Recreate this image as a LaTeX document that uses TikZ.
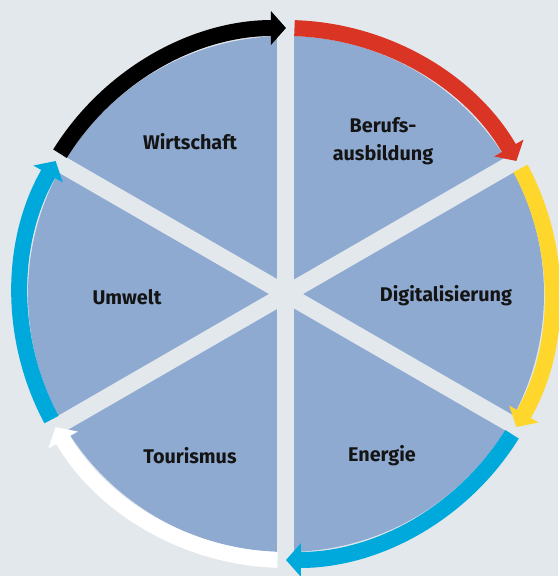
\documentclass[tikz,border=0pt]{standalone}
\usepackage{fontspec}
\setmainfont{Fira Sans}
\usetikzlibrary{arrows.meta}
\definecolor{bg}{HTML}{E3E8EC}
\definecolor{disk}{HTML}{8FAAD1}
\definecolor{cred}{HTML}{DA3425}
\definecolor{cyellow}{HTML}{FFD62B}
\definecolor{ccyan}{HTML}{00A9DC}
\definecolor{txt}{HTML}{141414}
\begin{document}
\begin{tikzpicture}[x=1pt,y=1pt,
  ring/.style={line width=16pt, -{Triangle[length=15pt,width=33pt]}},
  spoke/.style={line width=17pt, draw=bg},
  lbl/.style={font=\bfseries\fontsize{19.8}{28}\selectfont, text=txt, align=center, inner sep=0pt}]
\useasboundingbox[fill=bg] (-286,-282) rectangle (272,294);
\coordinate (c) at (0,0);
\fill[disk] (c) circle[radius=258];
\foreach \a in {90,30,-30,-90,-150,150}{
  \coordinate (s\a) at (\a:290);
  \draw[spoke] (c) -- (s\a);
}
\def\off{1.83}
\draw[ring, draw=black] (150-\off:266) arc[start angle=150-\off, end angle=90, radius=266];
\draw[ring, draw=cred] (90-\off:266) arc[start angle=90-\off, end angle=30, radius=266];
\draw[ring, draw=cyellow] (30-\off:266) arc[start angle=30-\off, end angle=-30, radius=266];
\draw[ring, draw=ccyan] (-30-\off:266) arc[start angle=-30-\off, end angle=-90, radius=266];
\draw[ring, draw=white] (-90-\off:266) arc[start angle=-90-\off, end angle=-150, radius=266];
\draw[ring, draw=ccyan] (-150-\off:266) arc[start angle=-150-\off, end angle=-210, radius=266];
\node[lbl] (wirt) at (-96,152) {Wirtschaft};
\node[lbl] (beruf) at (97,153) {Berufs-\\ausbildung};
\node[lbl] (digi) at (160,-2) {Digitalisierung};
\node[lbl] (umw) at (-159,-3) {Umwelt};
\node[lbl] (tour) at (-96,-162) {Tourismus};
\node[lbl] (ener) at (96,-162) {Energie};
\end{tikzpicture}
\end{document}
